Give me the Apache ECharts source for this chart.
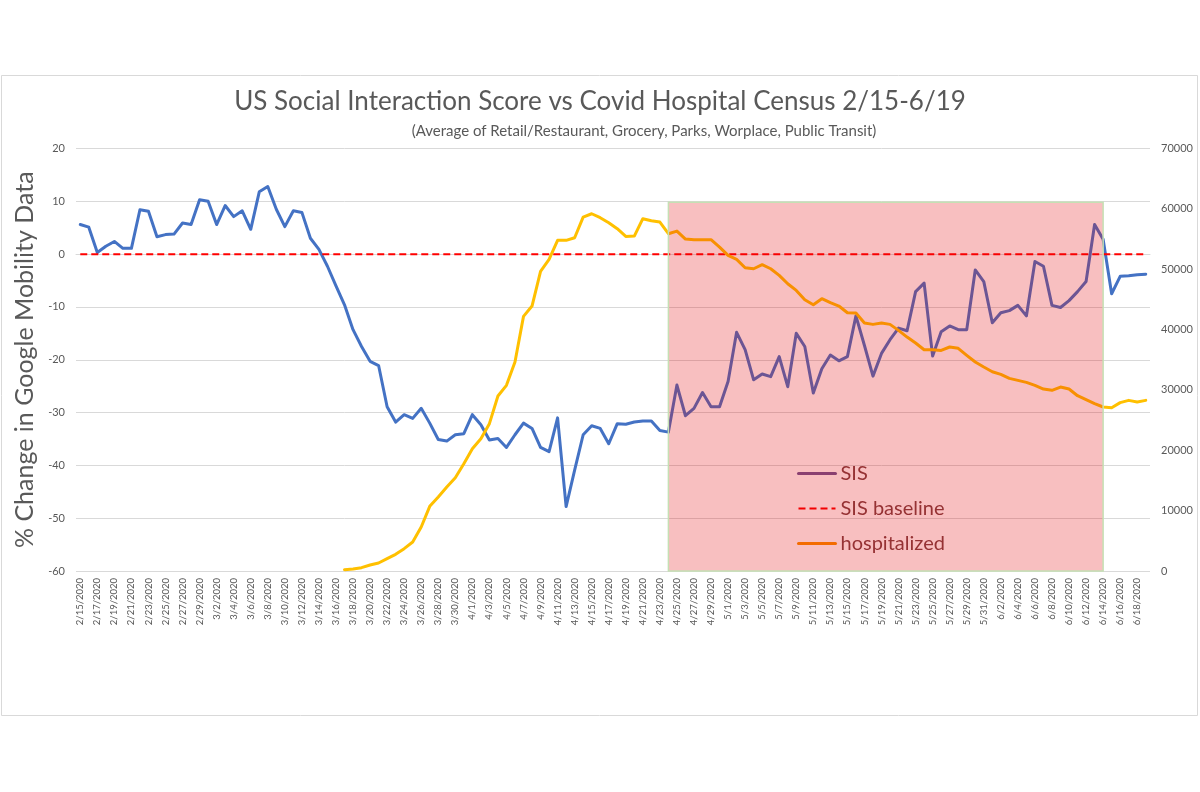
<!DOCTYPE html>
<html>
<head>
<meta charset="utf-8">
<script src="https://cdn.jsdelivr.net/npm/echarts@6/dist/echarts.min.js"></script>
<style>html,body{margin:0;padding:0;background:#fff}#c{width:1200px;height:792px}</style>
</head>
<body>
<div id="c"></div>
<script>
const dates = [
"2/15/2020","2/16/2020","2/17/2020","2/18/2020","2/19/2020","2/20/2020","2/21/2020","2/22/2020","2/23/2020","2/24/2020","2/25/2020","2/26/2020","2/27/2020","2/28/2020","2/29/2020",
"3/1/2020","3/2/2020","3/3/2020","3/4/2020","3/5/2020","3/6/2020","3/7/2020","3/8/2020","3/9/2020","3/10/2020","3/11/2020","3/12/2020","3/13/2020","3/14/2020","3/15/2020","3/16/2020","3/17/2020","3/18/2020","3/19/2020","3/20/2020","3/21/2020","3/22/2020","3/23/2020","3/24/2020","3/25/2020","3/26/2020","3/27/2020","3/28/2020","3/29/2020","3/30/2020","3/31/2020",
"4/1/2020","4/2/2020","4/3/2020","4/4/2020","4/5/2020","4/6/2020","4/7/2020","4/8/2020","4/9/2020","4/10/2020","4/11/2020","4/12/2020","4/13/2020","4/14/2020","4/15/2020","4/16/2020","4/17/2020","4/18/2020","4/19/2020","4/20/2020","4/21/2020","4/22/2020","4/23/2020","4/24/2020","4/25/2020","4/26/2020","4/27/2020","4/28/2020","4/29/2020","4/30/2020",
"5/1/2020","5/2/2020","5/3/2020","5/4/2020","5/5/2020","5/6/2020","5/7/2020","5/8/2020","5/9/2020","5/10/2020","5/11/2020","5/12/2020","5/13/2020","5/14/2020","5/15/2020","5/16/2020","5/17/2020","5/18/2020","5/19/2020","5/20/2020","5/21/2020","5/22/2020","5/23/2020","5/24/2020","5/25/2020","5/26/2020","5/27/2020","5/28/2020","5/29/2020","5/30/2020","5/31/2020",
"6/1/2020","6/2/2020","6/3/2020","6/4/2020","6/5/2020","6/6/2020","6/7/2020","6/8/2020","6/9/2020","6/10/2020","6/11/2020","6/12/2020","6/13/2020","6/14/2020","6/15/2020","6/16/2020","6/17/2020","6/18/2020","6/19/2020"
];

const sis = [
5.6,5.1,0.3,1.5,2.4,1.1,1.1,8.4,8.1,3.3,3.7,3.8,5.9,5.6,10.3,
10.0,5.6,9.2,7.1,8.2,4.7,11.8,12.8,8.5,5.2,8.2,7.9,3.0,0.9,-2.3,-6.0,-9.6,-14.3,-17.5,-20.3,-21.1,-28.9,-31.8,-30.4,-31.1,-29.2,-32.0,-35.1,-35.4,-34.2,-34.0,
-30.4,-32.3,-35.2,-34.9,-36.6,-34.2,-32.0,-33.0,-36.6,-37.4,-31.0,-47.8,-40.9,-34.2,-32.5,-33.0,-35.9,-32.1,-32.2,-31.8,-31.6,-31.6,-33.4,-33.7,-24.8,-30.6,-29.2,-26.2,-28.9,-28.9,
-24.1,-14.8,-18.1,-23.8,-22.7,-23.2,-19.4,-25.1,-15.0,-17.5,-26.3,-21.7,-19.1,-20.2,-19.4,-11.7,-17.3,-23.1,-18.8,-16.2,-14.0,-14.5,-7.1,-5.5,-19.3,-14.7,-13.6,-14.3,-14.3,-3.0,-5.2,
-13.0,-11.1,-10.7,-9.7,-11.7,-1.4,-2.3,-9.7,-10.1,-8.8,-7.1,-5.2,5.6,2.8,-7.5,-4.2,-4.1,-3.9,-3.8
];

const sisBaseline = [
0,0,0,0,0,0,0,0,0,0,0,0,0,0,0,
0,0,0,0,0,0,0,0,0,0,0,0,0,0,0,0,0,0,0,0,0,0,0,0,0,0,0,0,0,0,0,
0,0,0,0,0,0,0,0,0,0,0,0,0,0,0,0,0,0,0,0,0,0,0,0,0,0,0,0,0,0,
0,0,0,0,0,0,0,0,0,0,0,0,0,0,0,0,0,0,0,0,0,0,0,0,0,0,0,0,0,0,0,
0,0,0,0,0,0,0,0,0,0,0,0,0,0,0,0,0,0,0
];

const hospitalized = [
null,null,null,null,null,null,null,null,null,null,null,null,null,null,null,
null,null,null,null,null,null,null,null,null,null,null,null,null,null,null,null,220,330,550,990,1330,2040,2760,3700,4800,7290,10710,12260,13920,15460,17780,
20270,21920,24410,28990,30760,34620,42190,43900,49640,51630,54780,54780,55220,58640,59190,58530,57700,56710,55440,55490,58370,58030,57810,55880,56320,55000,54890,54890,54890,53670,
52290,51630,50250,50080,50750,50080,48980,47600,46490,44950,44120,45110,44450,43900,42790,42740,41080,40860,41080,40860,39870,38760,37770,36660,36660,36550,37110,36890,35730,34620,33790,
33020,32580,31920,31580,31250,30760,30150,29930,30480,30150,29040,28380,27720,27170,27060,27890,28270,28000,28270
];

const shadeStart = "4/24/2020";
const shadeEnd = "6/14/2020";
const shadeTop = 9.8;
const leftTicks = {min: -60, max: 20, interval: 10};
const rightTicks = {min: 0, max: 70000, interval: 10000};

const FONT = 'Lato, "Open Sans", sans-serif';
const GREY = '#595959';

const chart = echarts.init(document.getElementById('c'), null, {renderer: 'canvas'});
chart.setOption({
  animation: false,
  backgroundColor: '#fff',
  title: {
    text: 'US Social Interaction Score vs Covid Hospital Census 2/15-6/19',
    left: 'center', top: 89, padding: 0,
    textStyle: {fontSize: 26, fontWeight: 'normal', color: GREY, fontFamily: FONT}
  },
  graphic: [
    {type: 'rect', shape: {x: 1.5, y: 75.5, width: 1196, height: 640}, style: {fill: 'none', stroke: '#d9d9d9', lineWidth: 1}, silent: true},
    {type: 'text', x: 644, y: 131, style: {text: '(Average of Retail/Restaurant, Grocery, Parks, Worplace, Public Transit)', fontSize: 15, fontFamily: FONT, fill: GREY, textAlign: 'center', textVerticalAlign: 'middle'}}
  ],
  grid: {left: 76, right: 50, top: 148.5, bottom: 221, containLabel: false},
  legend: {
    orient: 'vertical', left: 792, top: 458,
    itemWidth: 37, itemHeight: 14, itemGap: 14,
    textStyle: {fontSize: 20, color: '#7c4344', fontFamily: FONT, lineHeight: 21},
    data: [
      {name: 'SIS', lineStyle: {color: '#6c5694', width: 3}, itemStyle: {opacity: 0}},
      {name: 'SIS baseline', lineStyle: {color: '#f80001', width: 2, type: [7, 4]}, itemStyle: {opacity: 0}},
      {name: 'hospitalized', lineStyle: {color: '#f89001', width: 3}, itemStyle: {opacity: 0}}
    ]
  },
  xAxis: {
    type: 'category', data: dates, boundaryGap: true,
    axisLine: {lineStyle: {color: '#d9d9d9', width: 1}},
    axisTick: {show: false},
    axisLabel: {rotate: 90, interval: 1, fontSize: 9.5, color: GREY, fontFamily: FONT, margin: 7}
  },
  yAxis: [
    {
      type: 'value', min: leftTicks.min, max: leftTicks.max, interval: leftTicks.interval,
      name: '% Change in Google Mobility Data', nameLocation: 'middle', nameGap: 30,
      nameTextStyle: {fontSize: 25, color: GREY, fontFamily: FONT},
      axisLine: {show: false}, axisTick: {show: false},
      axisLabel: {fontSize: 11, color: GREY, fontFamily: FONT, margin: 11},
      splitLine: {lineStyle: {color: '#d9d9d9', width: 1}}
    },
    {
      type: 'value', position: 'right', min: rightTicks.min, max: rightTicks.max, interval: rightTicks.interval,
      axisLine: {show: false}, axisTick: {show: false},
      axisLabel: {fontSize: 11, color: GREY, fontFamily: FONT, margin: 11, formatter: function (v) { return String(v); }},
      splitLine: {show: false}
    }
  ],
  series: [
    {
      name: 'SIS', type: 'line', data: sis, yAxisIndex: 0, symbol: 'none', z: 3,
      lineStyle: {color: '#4472C4', width: 3, join: 'round', cap: 'round'},
      itemStyle: {color: '#4472C4'},
      markArea: {
        silent: true, z: 10,
        itemStyle: {color: 'rgba(228,0,4,0.25)', borderColor: '#c5e0b4', borderWidth: 1.5},
        data: [[{xAxis: shadeStart, yAxis: shadeTop}, {xAxis: shadeEnd, yAxis: leftTicks.min}]]
      }
    },
    {
      name: 'SIS baseline', type: 'line', data: sisBaseline, yAxisIndex: 0, symbol: 'none', z: 3,
      lineStyle: {color: '#FF0000', width: 2, type: [7, 4]},
      itemStyle: {color: '#FF0000'}
    },
    {
      name: 'hospitalized', type: 'line', data: hospitalized, yAxisIndex: 1, symbol: 'none', z: 3,
      lineStyle: {color: '#FFC000', width: 3, join: 'round', cap: 'round'},
      itemStyle: {color: '#FFC000'}
    }
  ]
});
</script>
</body>
</html>
